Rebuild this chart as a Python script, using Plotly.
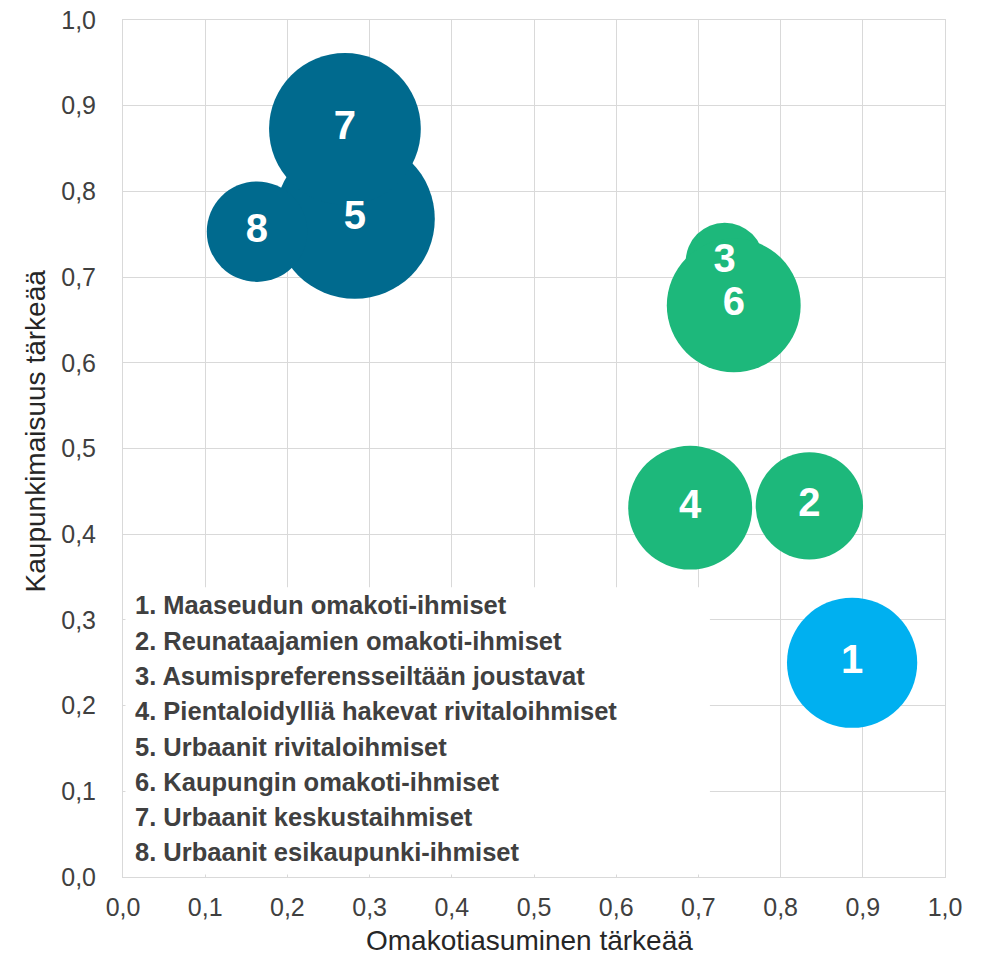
import plotly.graph_objects as go

# ---- data ----
segments = [
    "1. Maaseudun omakoti-ihmiset",
    "2. Reunataajamien omakoti-ihmiset",
    "3. Asumispreferensseiltään joustavat",
    "4. Pientaloidylliä hakevat rivitaloihmiset",
    "5. Urbaanit rivitaloihmiset",
    "6. Kaupungin omakoti-ihmiset",
    "7. Urbaanit keskustaihmiset",
    "8. Urbaanit esikaupunki-ihmiset",
]
labels = ["1", "2", "3", "4", "5", "6", "7", "8"]
omakoti = [0.887, 0.835, 0.732, 0.690, 0.282, 0.743, 0.270, 0.163]
kaupunki = [0.250, 0.433, 0.718, 0.431, 0.768, 0.667, 0.873, 0.753]
segment_size = [10.6, 7.2, 3.8, 9.6, 16.0, 11.2, 14.4, 6.3]
groups = ["maaseutu", "pientalo", "pientalo", "pientalo", "urbaani", "pientalo", "urbaani", "urbaani"]
x_ticks = [0.0, 0.1, 0.2, 0.3, 0.4, 0.5, 0.6, 0.7, 0.8, 0.9, 1.0]
y_ticks = [0.0, 0.1, 0.2, 0.3, 0.4, 0.5, 0.6, 0.7, 0.8, 0.9, 1.0]

# ---- style ----
group_colors = {"maaseutu": "#00B0F0", "pientalo": "#1DB87B", "urbaani": "#006A8E"}
colors = [group_colors[g] for g in groups]
FONT = "Liberation Sans, Arial, sans-serif"
GRID = "#D9D9D9"

fig = go.Figure()
fig.add_trace(go.Scatter(
    x=omakoti, y=kaupunki, mode="markers",
    marker=dict(size=segment_size, sizemode="area", sizeref=1 / 800,
                color=colors, opacity=1, line=dict(width=0)),
    hovertext=segments, hoverinfo="text", showlegend=False,
))
fig.add_trace(go.Scatter(
    x=omakoti, y=kaupunki, mode="text", text=labels,
    textfont=dict(family=FONT, size=40, color="white", weight="bold"),
    textposition="middle center", hoverinfo="skip", showlegend=False,
))

# legend box
fig.add_shape(type="rect", xref="x", yref="y", x0=0.003, x1=0.714, y0=0.003, y1=0.338,
              fillcolor="white", line=dict(width=0), layer="above")

line_top = 0.317
line_step = 0.0412
for i, s in enumerate(segments):
    fig.add_annotation(
        x=0.012, y=line_top - i * line_step, xref="x", yref="y",
        text=s, showarrow=False, xanchor="left", yanchor="middle",
        font=dict(family=FONT, size=25.5, color="#404040", weight="bold"),
    )

# axis titles
fig.add_annotation(x=0.495, y=-0.074, xref="paper", yref="paper",
                   text="Omakotiasuminen tärkeää", showarrow=False,
                   xanchor="center", yanchor="middle",
                   font=dict(family=FONT, size=28, color="#262626"))
fig.add_annotation(x=-0.107, y=0.52, xref="paper", yref="paper",
                   text="Kaupunkimaisuus tärkeää", showarrow=False, textangle=-90,
                   xanchor="center", yanchor="middle",
                   font=dict(family=FONT, size=28, color="#262626"))

axis_common = dict(
    range=[0, 1], showgrid=True, gridcolor=GRID, gridwidth=1,
    showline=True, mirror=True, linecolor=GRID, linewidth=1,
    zeroline=False, tickformat=".1f", ticks="", automargin=False,
    tickfont=dict(family=FONT, size=25, color="#404040"),
)
fig.update_xaxes(tickvals=x_ticks, ticklabelstandoff=8, **axis_common)
fig.update_yaxes(tickvals=y_ticks, ticklabelstandoff=21, **axis_common)

fig.update_layout(
    width=989, height=956, autosize=False,
    margin=dict(l=123, r=44, t=20, b=79, autoexpand=False),
    paper_bgcolor="white", plot_bgcolor="white",
    separators=", ",
    font=dict(family=FONT),
)

fig.write_html("out.html", config={"displayModeBar": False},
               post_script="document.body.style.margin='0';document.body.style.overflow='hidden';")
